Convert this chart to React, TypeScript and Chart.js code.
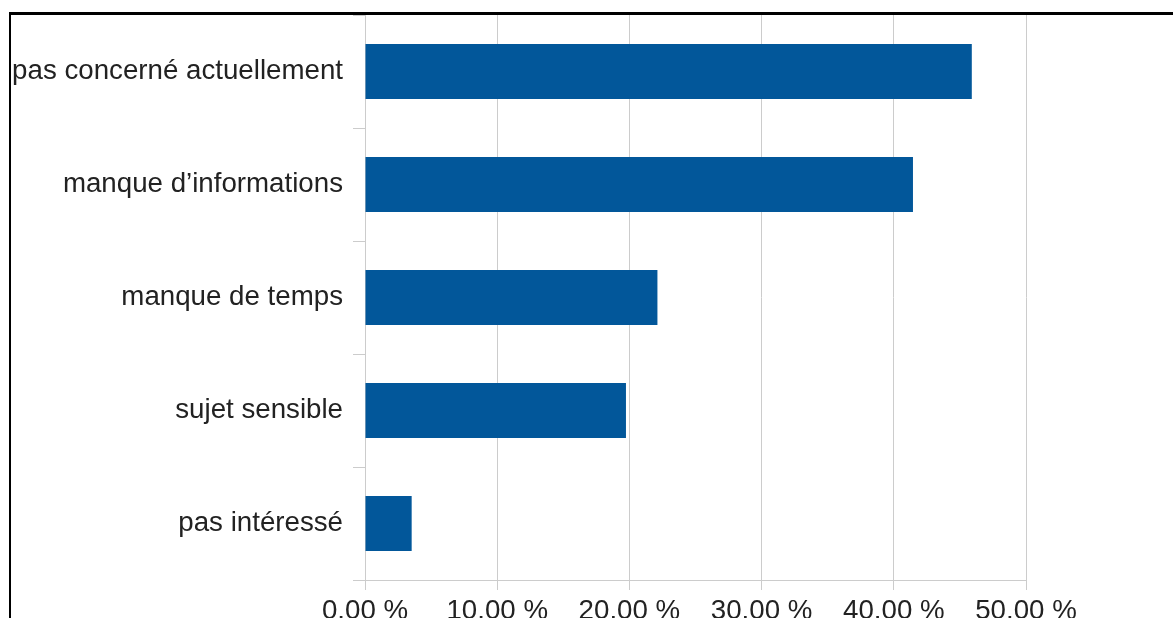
import React, { useEffect, useRef } from "react";
import { Chart, registerables } from "chart.js";

Chart.register(...registerables);

const categories: string[] = [
  "pas concerné actuellement",
  "manque d’informations",
  "manque de temps",
  "sujet sensible",
  "pas intéressé",
];
const values: number[] = [45.9, 41.45, 22.12, 19.74, 3.53];
const xTicksMin = 0;
const xTicksMax = 50;
const xTickStep = 10;

const W = 1173;
const H = 618;

const framePlugin = {
  id: "frame",
  afterDraw(chart: any) {
    const ctx = chart.ctx;
    ctx.save();
    ctx.fillStyle = "#000";
    ctx.fillRect(9, 12, W - 9, 3);
    ctx.fillRect(9, 12, 2, H - 12);
    ctx.restore();
  },
};

export default function App() {
  const ref = useRef<HTMLCanvasElement | null>(null);
  useEffect(() => {
    if (!ref.current) return;
    const font = { family: "'Liberation Sans', Arial, sans-serif", size: 27.7 };
    const chart = new Chart(ref.current, {
      type: "bar",
      data: {
        labels: categories,
        datasets: [
          {
            data: values,
            backgroundColor: "#02579a",
            borderWidth: 0,
            categoryPercentage: 1,
            barPercentage: 0.487,
          },
        ],
      },
      options: {
        indexAxis: "y",
        animation: false,
        responsive: false,
        devicePixelRatio: 1,
        layout: { padding: { top: 15, right: 147, left: 0, bottom: 0 } },
        plugins: { legend: { display: false }, tooltip: { enabled: false } },
        scales: {
          x: {
            min: xTicksMin,
            max: xTicksMax,
            afterFit: (s: any) => {
              s.height = 38;
              s.paddingLeft = 0;
              s.paddingRight = 0;
            },
            ticks: {
              stepSize: xTickStep,
              color: "#222",
              font,
              padding: 5,
              maxRotation: 0,
              callback: (v: any) => Number(v).toFixed(2) + " %",
            },
            grid: { color: "#cccccc", lineWidth: 1, tickLength: 10, drawTicks: true },
            border: { color: "#cccccc", width: 1 },
          },
          y: {
            afterFit: (s: any) => {
              s.width = 365;
              s.paddingTop = 0;
              s.paddingBottom = 0;
            },
            ticks: { color: "#222", font, padding: 10 },
            grid: {
              color: "#cccccc",
              drawOnChartArea: false,
              drawTicks: true,
              tickLength: 12,
              offset: true,
            },
            border: { color: "#cccccc", width: 1 },
          },
        },
      },
      plugins: [framePlugin],
    });
    return () => chart.destroy();
  }, []);
  return (
    <div
      style={{
        position: "fixed",
        left: 0,
        top: 0,
        width: W,
        height: H,
        overflow: "hidden",
        background: "#fff",
      }}
    >
      <canvas ref={ref} width={W} height={H} style={{ width: W, height: H, display: "block" }} />
    </div>
  );
}
